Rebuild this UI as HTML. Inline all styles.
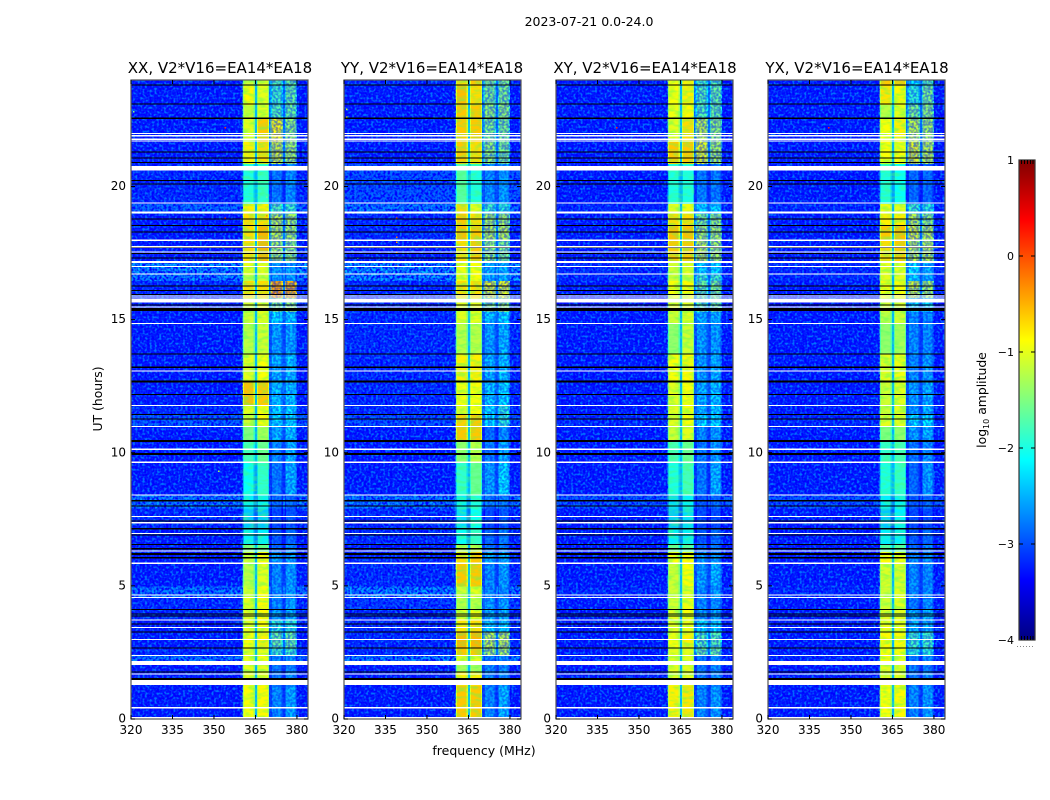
<!DOCTYPE html>
<html lang="en">
<head>
<meta charset="utf-8">
<title>2023-07-21 0.0-24.0</title>
<style>
html,body{margin:0;padding:0;background:#fff;}
body{width:1050px;height:800px;overflow:hidden;}
svg{display:block;}
text{font-family:"DejaVu Sans","Liberation Sans",sans-serif;fill:#000;}
</style>
</head>
<body>
<svg id="chart" xmlns="http://www.w3.org/2000/svg" width="1050" height="800" viewBox="0 0 1050 800">
  <defs>
    <filter id="speckle-light" x="0" y="0" width="100%" height="100%" color-interpolation-filters="sRGB">
      <feTurbulence type="fractalNoise" baseFrequency="0.42" numOctaves="1" seed="3"/>
      <feColorMatrix values="0 0 0 0 0  0 0 0 0 .45  0 0 0 0 1  4 0 0 0 -1.9"/>
    </filter>
    <filter id="speckle-dark" x="0" y="0" width="100%" height="100%" color-interpolation-filters="sRGB">
      <feTurbulence type="fractalNoise" baseFrequency="0.42" numOctaves="1" seed="11"/>
      <feColorMatrix values="0 0 0 0 0  0 0 0 0 0  0 0 0 0 1  0 4 0 0 -1.5"/>
    </filter>
    <filter id="speckle-green" x="0" y="0" width="100%" height="100%" color-interpolation-filters="sRGB">
      <feTurbulence type="fractalNoise" baseFrequency="0.12 0.3" numOctaves="2" seed="7"/>
      <feColorMatrix values="0 0 0 0 .3  0 0 0 0 1  0 0 0 0 .4  3 0 0 0 -1.2"/>
    </filter>
    <linearGradient id="jet-gradient" x1="0" y1="1" x2="0" y2="0"></linearGradient>
  </defs>
  <text x="589" y="26" font-size="12.5" text-anchor="middle">2023-07-21 0.0-24.0</text>
  <text x="220" y="73" font-size="15" text-anchor="middle">XX, V2*V16=EA14*EA18</text>
  <text x="432" y="73" font-size="15" text-anchor="middle">YY, V2*V16=EA14*EA18</text>
  <text x="645" y="73" font-size="15" text-anchor="middle">XY, V2*V16=EA14*EA18</text>
  <text x="857" y="73" font-size="15" text-anchor="middle">YX, V2*V16=EA14*EA18</text>
  <text x="102" y="399" font-size="12.4" text-anchor="middle" transform="rotate(-90 102 399)">UT (hours)</text>
  <text x="484" y="755" font-size="12.5" text-anchor="middle">frequency (MHz)</text>
  <text x="986" y="400" font-size="12.4" text-anchor="middle" transform="rotate(-90 986 400)">log<tspan font-size="8" dy="3">10</tspan><tspan dy="-3"> amplitude</tspan></text>
  <g id="panels"></g>
  <g id="colorbar"></g>
</svg>
<script>
// Time segment lower edges (UT hours); the last entry closes the final segment.
const segmentEdgesUT = [0,1.28,1.76,2.18,2.40,2.66,3.26,3.71,4.13,4.58,4.99,5.85,6.30,6.57,7.13,7.92,8.41,9.64,10.47,10.99,11.44,11.78,12.68,13.70,14.86,15.31,15.83,16.47,16.70,17.15,17.97,18.54,18.99,19.36,20.56,20.86,21.69,22.55,23.08,23.79,24];

// Spectral windows (MHz)
const bandStartMHz = [360.4,365.5,370.5,375.6];
const bandEndMHz = [364.8,369.9,374.9,380.0];
const gapLevels = [-2.5,-2.7,-2.7];

// log10 amplitude per time segment
const xxBackground = [-3.25,-3.25,-3.25,-2.65,-3.15,-3.25,-3.25,-3.15,-3.15,-2.65,-3.25,-3.25,-3.25,-3.25,-3.15,-2.6,-3.25,-3.25,-3.25,-2.8,-3.15,-3.25,-3.25,-3.25,-3.25,-3.15,-3.15,-2.55,-2.5,-3.25,-3.25,-3.25,-2.75,-3.15,-3.15,-3.25,-3.25,-3.25,-3.25,-3.25];
const xxBand1 = [-.9,-1,-1,-1,-1,-.9,-1,-1,-1,-1.1,-1.2,-1.1,-1.5,-2.2,-2.4,-2.2,-2.1,-1.8,-1.5,-1.1,-1,-.55,-1,-1.2,-1.1,-1.1,-.7,-1.2,-1,-.7,-.7,-.7,-.8,-2,-2,-.8,-1,-1.1,-.85,-1.1];
const xxBand2 = [-.85,-1,-1,-.95,-1,-.8,-.9,-.85,-.85,-.9,-1,-.85,-1.6,-2.2,-2.4,-2.2,-1.9,-1.6,-1.3,-.9,-.9,-.6,-.9,-1.1,-1,-1,-.7,-1.1,-1,-.5,-.5,-.7,-.8,-1.9,-2,-.7,-.6,-1,-1,-1];
const xxBand3 = [-2.55,-2.65,-2.65,-2.6,-1.8,-1.6,-1.9,-2.45,-2.55,-2.55,-2.55,-2.45,-2.75,-2.85,-2.95,-2.75,-2.65,-2.55,-2.35,-2.15,-2.15,-2.25,-2.35,-2.45,-2.15,-1.5,-.45,-2.45,-2.45,-1.3,-1.2,-1.2,-1.7,-2.65,-2.65,-1.1,-.9,-1.7,-1.8,-1.7];
const xxBand4 = [-2.4,-2.55,-2.6,-2.55,-1.8,-1.6,-1.9,-2.35,-2.45,-2.45,-2.45,-2.45,-2.55,-2.75,-2.85,-2.75,-2.35,-2.35,-2.25,-2.15,-2.15,-2.25,-2.25,-2.45,-2.25,-1.4,-.5,-2.45,-2.45,-1.4,-1.3,-1.3,-1.8,-2.55,-2.55,-1.3,-1.4,-1.6,-1.6,-1.6];

const yyBackground = [-3.25,-3.25,-3.25,-2.6,-3.15,-3.15,-3.15,-3.15,-3.05,-2.55,-3.15,-3.15,-3.25,-3.15,-3.15,-2.6,-3.25,-3.25,-3.25,-2.9,-3.15,-3.15,-3.15,-3.15,-3.15,-3.15,-3.15,-2.5,-2.45,-3.25,-3.15,-3.15,-2.65,-2.9,-2.9,-3.25,-3.25,-3.25,-3.25,-3.15];
const yyBand1 = [-.6,-.8,-1.3,-1,-.6,-.5,-.75,-1,-1.2,-1.1,-.6,-.7,-1.2,-2.1,-2.3,-2.2,-1.9,-1.4,-.6,-.65,-1,-.9,-.8,-1.2,-1,-1,-.7,-.9,-.95,-.7,-.55,-.6,-.7,-1.7,-1.7,-.6,-.6,-.6,-.55,-.7];
const yyBand2 = [-.6,-.8,-1.3,-1,-.6,-.5,-.7,-.9,-1.2,-1,-.6,-.6,-1.2,-1.9,-2.1,-2,-1.6,-1.2,-.6,-.6,-.9,-.9,-.8,-1.2,-1,-1,-.7,-.9,-.9,-.6,-.6,-.7,-1,-2,-2,-.7,-.6,-.6,-.7,-.6];
const yyBand3 = [-2.55,-2.55,-2.55,-2.65,-1.3,-1.2,-2.15,-2.35,-2.45,-2.55,-2.55,-2.35,-2.65,-2.75,-2.95,-2.65,-2.45,-2.65,-2.75,-2.15,-2.15,-2.25,-2.35,-2.45,-2.25,-1.5,-1,-2.35,-2.35,-1.4,-1.2,-1.3,-1.8,-2.55,-2.55,-1.4,-1.5,-1.4,-1.5,-1.5];
const yyBand4 = [-2.35,-2.55,-2.55,-2.55,-1.3,-1.2,-2.15,-2.35,-2.45,-2.55,-2.45,-2.35,-2.65,-2.65,-2.85,-2.65,-2.15,-2.35,-2.55,-1.9,-1.9,-2.15,-2.25,-2.35,-2.15,-1.4,-1,-2.35,-2.35,-1.5,-1.2,-1.3,-1.9,-2.45,-2.45,-1.5,-1.5,-1.4,-1.5,-1.5];

const xyBackground = [-3.25,-3.25,-3.25,-3.15,-3.25,-3.25,-3.25,-3.25,-3.25,-3.15,-3.25,-3.25,-3.25,-3.25,-3.25,-2.85,-3.25,-3.25,-3.25,-3.15,-3.25,-3.25,-3.25,-3.25,-3.25,-3.25,-3.25,-3.15,-3.15,-3.25,-3.25,-3.25,-3.15,-3.25,-3.25,-3.25,-3.25,-3.25,-3.25,-3.25];
const xyBand1 = [-.8,-1,-1,-1,-1,-.9,-1,-1,-1.1,-1.1,-1.1,-.9,-1.6,-2.2,-2.4,-2.3,-2,-1.8,-1.1,-1,-1,-1,-.9,-1.4,-1.1,-1,-.9,-1.1,-1.1,-.6,-.55,-.7,-1,-2,-2,-.6,-1,-.95,-.9,-.9];
const xyBand2 = [-.75,-1,-1,-1,-1,-.8,-.95,-.9,-.95,-1,-.9,-.85,-1.7,-2.2,-2.3,-2.2,-1.8,-1.6,-1,-.9,-.9,-.9,-.85,-1.1,-1,-1,-.85,-1.1,-1,-.6,-.55,-.7,-.95,-2,-2,-.6,-.7,-.85,-.8,-.8];
const xyBand3 = [-2.55,-2.65,-2.65,-2.65,-1.6,-1.7,-2.15,-2.45,-2.55,-2.55,-2.45,-2.45,-2.75,-2.85,-2.95,-2.85,-2.65,-2.65,-2.55,-2.15,-2.35,-2.35,-2.45,-2.45,-2.35,-1.7,-1.6,-1.8,-2.15,-1.2,-1.3,-1.5,-2.15,-2.65,-2.65,-1,-1.2,-1.7,-1.7,-1.8];
const xyBand4 = [-2.45,-2.55,-2.55,-2.55,-1.6,-1.7,-2.15,-2.45,-2.5,-2.45,-2.35,-2.45,-2.65,-2.75,-2.95,-2.75,-2.35,-2.45,-2.45,-2.15,-2.25,-2.25,-2.35,-2.45,-2.35,-1.6,-1.5,-1.8,-2.15,-1.3,-1.3,-1.4,-2.15,-2.65,-2.65,-1.3,-1.4,-1.6,-1.6,-1.7];

const yxBackground = [-3.25,-3.25,-3.25,-3.15,-3.25,-3.25,-3.25,-3.25,-3.25,-3.15,-3.25,-3.25,-3.25,-3.25,-3.25,-2.85,-3.25,-3.25,-3.25,-3.15,-3.25,-3.25,-3.25,-3.25,-3.25,-3.25,-3.25,-3.15,-3.15,-3.25,-3.25,-3.25,-3.15,-3.25,-3.25,-3.25,-3.25,-3.25,-3.25,-3.25];
const yxBand1 = [-.9,-1,-1,-.9,-.9,-.85,-.95,-1,-1.1,-1.1,-1.05,-.85,-1.7,-2.2,-2.4,-2.2,-2,-1.9,-1.5,-1,-1.1,-1.1,-1,-1.4,-1.2,-1.1,-.9,-1,-1,-.7,-.6,-.8,-.95,-2,-2,-.9,-.9,-1.2,-.75,-.6];
const yxBand2 = [-.85,-1,-1,-1,-.9,-.85,-.95,-1,-1,-1,-1.05,-.9,-1.7,-2.2,-2.2,-2.2,-1.9,-1.8,-1.4,-1,-1,-1,-.95,-1.3,-1.1,-1,-.9,-1,-1,-.6,-.55,-.8,-1,-2.1,-2.1,-.9,-.8,-1,-.85,-.6];
const yxBand3 = [-2.55,-2.65,-2.65,-2.65,-1.9,-1.8,-2.35,-2.35,-2.65,-2.55,-2.55,-2.55,-2.75,-2.85,-2.95,-2.85,-2.75,-2.65,-2.45,-2.15,-2.45,-2.45,-2.55,-2.55,-2.55,-2.15,-1.1,-2.15,-2.15,-1.2,-1.05,-1.2,-1.8,-2.75,-2.75,-1,-1.2,-1.5,-1.9,-2.15];
const yxBand4 = [-2.45,-2.55,-2.65,-2.55,-1.9,-1.8,-2.35,-2.35,-2.55,-2.55,-2.55,-2.55,-2.65,-2.75,-2.95,-2.75,-2.45,-2.55,-2.35,-2.15,-2.35,-2.35,-2.45,-2.55,-2.55,-2.15,-1.3,-2.35,-2.35,-1.2,-1.2,-1.4,-1.9,-2.75,-2.75,-1.2,-1.3,-1.4,-1.5,-1.7];

// Flagged integrations (UT centre and duration in hours)
const blackFlagUT = [23.81,23.10,22.57,21.30,21.07,20.90,20.22,20.09,18.78,18.53,18.29,17.71,17.49,17.31,16.26,16.09,15.95,15.55,15.38,13.71,13.21,12.68,12.18,11.44,11.27,10.45,9.95,8.20,8.00,7.43,7.14,6.91,6.56,6.40,6.20,6.05,4.12,3.94,3.87,3.57,3.27,2.67,1.77,1.50];
const blackFlagHours = [.04,.045,.055,.04,.04,.04,.04,.04,.04,.045,.045,.04,.04,.045,.04,.04,.04,.045,.095,.045,.07,.075,.04,.045,.045,.075,.085,.045,.045,.04,.06,.04,.04,.055,.075,.055,.04,.04,.04,.04,.04,.045,.04,.075];
const whiteFlagUT = [21.99,21.90,21.78,21.71,20.68,19.38,19.02,17.98,17.74,17.54,17.19,17.14,16.99,16.71,15.89,15.82,15.71,15.47,14.86,13.07,11.78,10.99,10.13,9.64,8.41,7.60,7.37,6.97,6.31,5.85,4.66,4.56,3.72,3.44,2.99,2.39,2.10,1.69,1.37,0.42,0.04];
const whiteFlagHours = [.05,.05,.05,.05,.17,.045,.085,.045,.045,.045,.04,.04,.045,.045,.04,.04,.13,.04,.045,.045,.045,.045,.045,.045,.045,.045,.04,.045,.055,.045,.045,.045,.045,.045,.045,.045,.15,.04,.19,.045,.07];

// Isolated hot channels: panel index, MHz, UT, log10 amplitude
const spotPanel = [0,0,0,0,0,1,1,1,1,1,1,1,2,2,3,0,0,1,1];
const spotMHz = [354,354,369,369,351.7,339,339,339,339,339,365,325,342,342,342,321,351,321,321];
const spotUT = [18.8,22.2,18.9,19.6,9.3,18.8,18.1,17.5,17,17.9,20.7,17.3,22.2,18.3,22.2,22.8,21.9,22.9,22.6];
const spotValue = [.1,.1,-.3,-1.6,-1.3,.1,-.2,-.1,.1,-.4,-1.8,-1.6,.2,-.5,.2,-1.5,-1.8,-1.2,-.9];

const panelKeys = ['xx','yy','xy','yx'];
const panelBackground = [xxBackground,yyBackground,xyBackground,yxBackground];
const panelBands = [
  [xxBand1,xxBand2,xxBand3,xxBand4],
  [yyBand1,yyBand2,yyBand3,yyBand4],
  [xyBand1,xyBand2,xyBand3,xyBand4],
  [yxBand1,yxBand2,yxBand3,yxBand4]
];
const freqTicks = [320,335,350,365,380];
const utTicks = [0,5,10,15,20];
const colorbarTicks = [1,0,-1,-2,-3,-4];

// Layout
const panelLeft = [131,344,556,768];
const panelWidth = 177, plotTop = 80, plotBottom = 719;
const freqMin = 320, freqMax = 384, utMin = 0, utMax = 24;
const cbLeft = 1019, cbRight = 1035, cbTop = 160, cbBottom = 640, cbMin = -4, cbMax = 1;

const NS = 'http://www.w3.org/2000/svg';
function make(tag, parent, attrs) {
  const el = document.createElementNS(NS, tag);
  for (const k in attrs) el.setAttribute(k, attrs[k]);
  parent.appendChild(el);
  return el;
}
function jet(v) {
  const t = Math.max(0, Math.min(1, (v - cbMin) / (cbMax - cbMin)));
  const f = (a) => Math.round(255 * Math.max(0, Math.min(1, a)));
  const r = f(Math.min(4 * t - 1.5, -4 * t + 4.5));
  const g = f(Math.min(4 * t - 0.5, -4 * t + 3.5));
  const b = f(Math.min(4 * t + 0.5, -4 * t + 2.5));
  return 'rgb(' + r + ',' + g + ',' + b + ')';
}
function yScale(ut) { return plotBottom - (ut - utMin) / (utMax - utMin) * (plotBottom - plotTop); }
function xScale(p, mhz) { return panelLeft[p] + (mhz - freqMin) / (freqMax - freqMin) * panelWidth; }
function cbScale(v) { return cbBottom - (v - cbMin) / (cbMax - cbMin) * (cbBottom - cbTop); }

const panelsRoot = document.getElementById('panels');

panelKeys.forEach(function (key, p) {
  const panel = make('g', panelsRoot, {});
  
  
  const left = panelLeft[p], right = left + panelWidth;

  const clip = make('clipPath', panel, { id: 'clip-' + key });
  make('rect', clip, { x: left, y: plotTop, width: panelWidth, height: plotBottom - plotTop });

  const heat = make('g', panel, { 'clip-path': 'url(#clip-' + key + ')', 'shape-rendering': 'crispEdges' });
  
  

  function cell(f0, f1, u0, u1, value) {
    const x0 = xScale(p, f0), x1 = xScale(p, f1), y0 = yScale(u1), y1 = yScale(u0);
    const r = make('rect', heat, { x: x0, y: y0, width: Math.max(x1 - x0, 0.5), height: y1 - y0 + 0.5, fill: jet(value) });
    
    
  }

  for (let s = 0; s < segmentEdgesUT.length - 1; s++) {
    const u0 = segmentEdgesUT[s], u1 = segmentEdgesUT[s + 1];
    const bg = panelBackground[p][s];
    cell(freqMin, bandStartMHz[0], u0, u1, bg);
    cell(bandEndMHz[3], freqMax, u0, u1, bg);
    panelBands[p].forEach(function (series, b) {
      const v = series[s];
      const edge = 0.45;
      cell(bandStartMHz[b], bandStartMHz[b] + edge, u0, u1, v - 0.4);
      cell(bandStartMHz[b] + edge, bandEndMHz[b] - edge, u0, u1, v);
      cell(bandEndMHz[b] - edge, bandEndMHz[b], u0, u1, v - 0.4);
      if (b < 3) {
        const next = panelBands[p][b + 1][s];
        cell(bandEndMHz[b], bandStartMHz[b + 1], u0, u1, Math.max(bg, Math.min(gapLevels[b], Math.min(v, next) - 0.5)));
      }
    });
  }

  // Pixel-level texture over the noisy channels
  const texture = make('g', panel, { 'clip-path': 'url(#clip-' + key + ')', 'pointer-events': 'none' });
  
  
  const bandStartX = xScale(p, bandStartMHz[0]);
  const band2EndX = xScale(p, bandEndMHz[1]);
  const band4EndX = xScale(p, bandEndMHz[3]);
  const plotH = plotBottom - plotTop;
  ['speckle-dark', 'speckle-light'].forEach(function (f) {
    make('rect', texture, { x: left, y: plotTop, width: bandStartX - left, height: plotH, filter: 'url(#' + f + ')' });
    make('rect', texture, { x: band2EndX, y: plotTop, width: band4EndX - band2EndX, height: plotH, filter: 'url(#' + f + ')', opacity: 0.45 });
    make('rect', texture, { x: band4EndX, y: plotTop, width: right - band4EndX, height: plotH, filter: 'url(#' + f + ')' });
  });
  make('rect', texture, { x: bandStartX, y: plotTop, width: band2EndX - bandStartX, height: plotH, filter: 'url(#speckle-green)', opacity: 0.45 });

  // Flags and hot channels sit above the texture
  const flags = make('g', panel, { 'clip-path': 'url(#clip-' + key + ')', 'shape-rendering': 'crispEdges' });
  
  

  spotPanel.forEach(function (sp, i) {
    if (sp !== p) return;
    const dot = make('rect', flags, { x: xScale(p, spotMHz[i]) - 0.75, y: yScale(spotUT[i]) - 0.75, width: 1.5, height: 1.5, fill: jet(spotValue[i]) });
    
    
  });

  blackFlagUT.forEach(function (u, i) {
    const h = blackFlagHours[i];
    const line = make('rect', flags, { x: left, y: yScale(u + h / 2), width: panelWidth, height: yScale(u - h / 2) - yScale(u + h / 2), fill: '#000' });
    
    
  });
  whiteFlagUT.forEach(function (u, i) {
    const h = whiteFlagHours[i];
    const line = make('rect', flags, { x: left, y: yScale(u + h / 2), width: panelWidth, height: yScale(u - h / 2) - yScale(u + h / 2), fill: '#fff' });
    
    
  });

  // Frame
  const frame = make('rect', panel, { x: left, y: plotTop, width: panelWidth, height: plotH, fill: 'none', stroke: '#555', 'stroke-width': 1.2 });
  
  

  // X ticks
  freqTicks.forEach(function (t) {
    const x = xScale(p, t);
    const a = make('line', panel, { x1: x, x2: x, y1: plotBottom, y2: plotBottom - 4, stroke: '#000', 'stroke-width': 1 });
    
    
    const c = make('line', panel, { x1: x, x2: x, y1: plotTop, y2: plotTop + 4, stroke: '#000', 'stroke-width': 1 });
    
    
    const label = make('text', panel, { x: x, y: 734, 'font-size': 12, 'text-anchor': 'middle' });
    label.textContent = t;
    
    
  });

  // Y ticks
  utTicks.forEach(function (t) {
    const y = yScale(t);
    const a = make('line', panel, { x1: left, x2: left + 4, y1: y, y2: y, stroke: '#000', 'stroke-width': 1 });
    
    
    const c = make('line', panel, { x1: right, x2: right - 4, y1: y, y2: y, stroke: '#000', 'stroke-width': 1 });
    
    
    const label = make('text', panel, { x: left - 5, y: y + 3.5, 'font-size': 12, 'text-anchor': 'end' });
    label.textContent = t;
    
    
  });
});

// Colorbar
const cbRoot = document.getElementById('colorbar');
const gradient = document.getElementById('jet-gradient');
for (let i = 0; i <= 32; i++) {
  const v = cbMin + (cbMax - cbMin) * i / 32;
  make('stop', gradient, { offset: (i / 32 * 100) + '%', 'stop-color': jet(v) });
}
const cbRect = make('rect', cbRoot, { x: cbLeft, y: cbTop, width: cbRight - cbLeft, height: cbBottom - cbTop, fill: 'url(#jet-gradient)', stroke: '#333', 'stroke-width': 1.2 });



colorbarTicks.forEach(function (t) {
  const y = cbScale(t);
  if (t !== 1 && t !== -4) {
    const a = make('line', cbRoot, { x1: cbLeft, x2: cbLeft + 4, y1: y, y2: y, stroke: '#000', 'stroke-width': 1 });
    
    
    const c = make('line', cbRoot, { x1: cbRight, x2: cbRight - 4, y1: y, y2: y, stroke: '#000', 'stroke-width': 1 });
    
    
  }
  const label = make('text', cbRoot, { x: 1014, y: y + 4, 'font-size': 11, 'text-anchor': 'end' });
  label.textContent = String(t).replace('-', '\u2212');
  
  
});

// Short end ticks and the dotted remnant under the bar
[1021.5, 1024.5, 1027.5, 1030.5, 1033].forEach(function (x) {
  const top = make('line', cbRoot, { x1: x, x2: x, y1: cbTop, y2: cbTop + 4, stroke: '#000', 'stroke-width': 1 });
  
  
  const bottom = make('line', cbRoot, { x1: x, x2: x, y1: cbBottom, y2: cbBottom - 4, stroke: '#000', 'stroke-width': 1 });
  
  
});
const dots = make('line', cbRoot, { x1: 1017, x2: 1035, y1: 646.5, y2: 646.5, stroke: '#888', 'stroke-width': 1, 'stroke-dasharray': '1 2' });


</script>
</body>
</html>
